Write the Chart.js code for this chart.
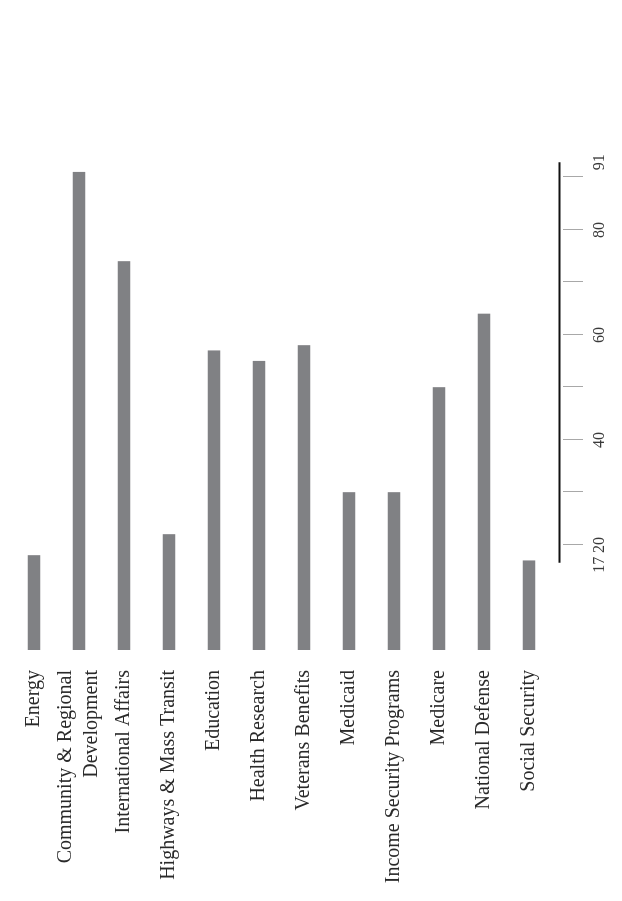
<!DOCTYPE html>
<html>
<head>
<meta charset="utf-8">
<script src="https://cdn.jsdelivr.net/npm/chart.js@4"></script>
<style>
  html, body { margin: 0; padding: 0; background: #fff; overflow: hidden; }
  #wrap {
    position: absolute; left: 0; top: 0;
    width: 901px; height: 622px;
    transform-origin: 0 0;
    transform: translate(0, 901px) rotate(-90deg);
  }
</style>
</head>
<body>
<div id="wrap"><canvas id="budgetChart" width="901" height="622"></canvas></div>
<script>
// chart data
const categories = [
    "Energy",
    ["Community & Regional", "Development"],
    "International Affairs",
    "Highways & Mass Transit",
    "Education",
    "Health Research",
    "Veterans Benefits",
    "Medicaid",
    "Income Security Programs",
    "Medicare",
    "National Defense",
    "Social Security"
];
const values = [18, 91, 74, 22, 57, 55, 58, 30, 30, 50, 64, 17];
const tickLabels = [17, 20, 40, 60, 80, 91];
const tickMarks = [20, 30, 40, 50, 60, 70, 80, 90];

const serif = "'Liberation Serif', 'DejaVu Serif', serif";

// range-frame style value axis, drawn with the x scale
const rangeAxis = {
    id: "rangeAxis",
    afterDraw(chart) {
        const ctx = chart.ctx;
        const xs = chart.scales.x;
        const lo = Math.min(...tickLabels);
        const hi = Math.max(...tickLabels);
        const x0 = xs.getPixelForValue(lo) - 2;
        const x1 = xs.getPixelForValue(hi) + 10;
        const lineY = 559.5;

        ctx.save();
        ctx.strokeStyle = "#111";
        ctx.lineWidth = 2.2;
        ctx.beginPath();
        ctx.moveTo(x0, lineY);
        ctx.lineTo(x1, lineY);
        ctx.stroke();

        ctx.strokeStyle = "#a8a8a8";
        ctx.lineWidth = 1;
        tickMarks.forEach(v => {
            const x = Math.round(xs.getPixelForValue(v)) + 0.5;
            ctx.beginPath();
            ctx.moveTo(x, 563);
            ctx.lineTo(x, 583);
            ctx.stroke();
        });

        ctx.fillStyle = "#3a3a3a";
        ctx.font = "16px " + serif;
        ctx.textAlign = "center";
        ctx.textBaseline = "middle";
        tickLabels.forEach(v => {
            let x = xs.getPixelForValue(v);
            if (v === lo) x = x0 - 2;
            if (v === hi) x = x1;
            ctx.fillText(String(v), x, 600);
        });
        ctx.restore();
    }
};

new Chart(document.getElementById("budgetChart").getContext("2d"), {
    type: "bar",
    data: {
        labels: categories,
        datasets: [{
            data: values,
            backgroundColor: "#808184",
            borderWidth: 0,
            barThickness: 12
        }]
    },
    options: {
        indexAxis: "y",
        responsive: false,
        animation: false,
        devicePixelRatio: 1,
        layout: { padding: { left: 0, right: 125, top: 11.5, bottom: 70.5 } },
        plugins: { legend: { display: false }, tooltip: { enabled: false } },
        scales: {
            x: { display: false, min: 0, max: 100 },
            y: {
                grid: { display: false, drawTicks: false },
                border: { display: false },
                ticks: {
                    color: "#2a2a2a",
                    padding: 20,
                    autoSkip: false,
                    font: { family: serif, size: 20, lineHeight: 1.3 }
                },
                afterFit(scale) {
                    scale.width = 251;
                    scale.paddingTop = 0;
                    scale.paddingBottom = 0;
                }
            }
        }
    },
    plugins: [rangeAxis]
});
</script>
</body>
</html>
